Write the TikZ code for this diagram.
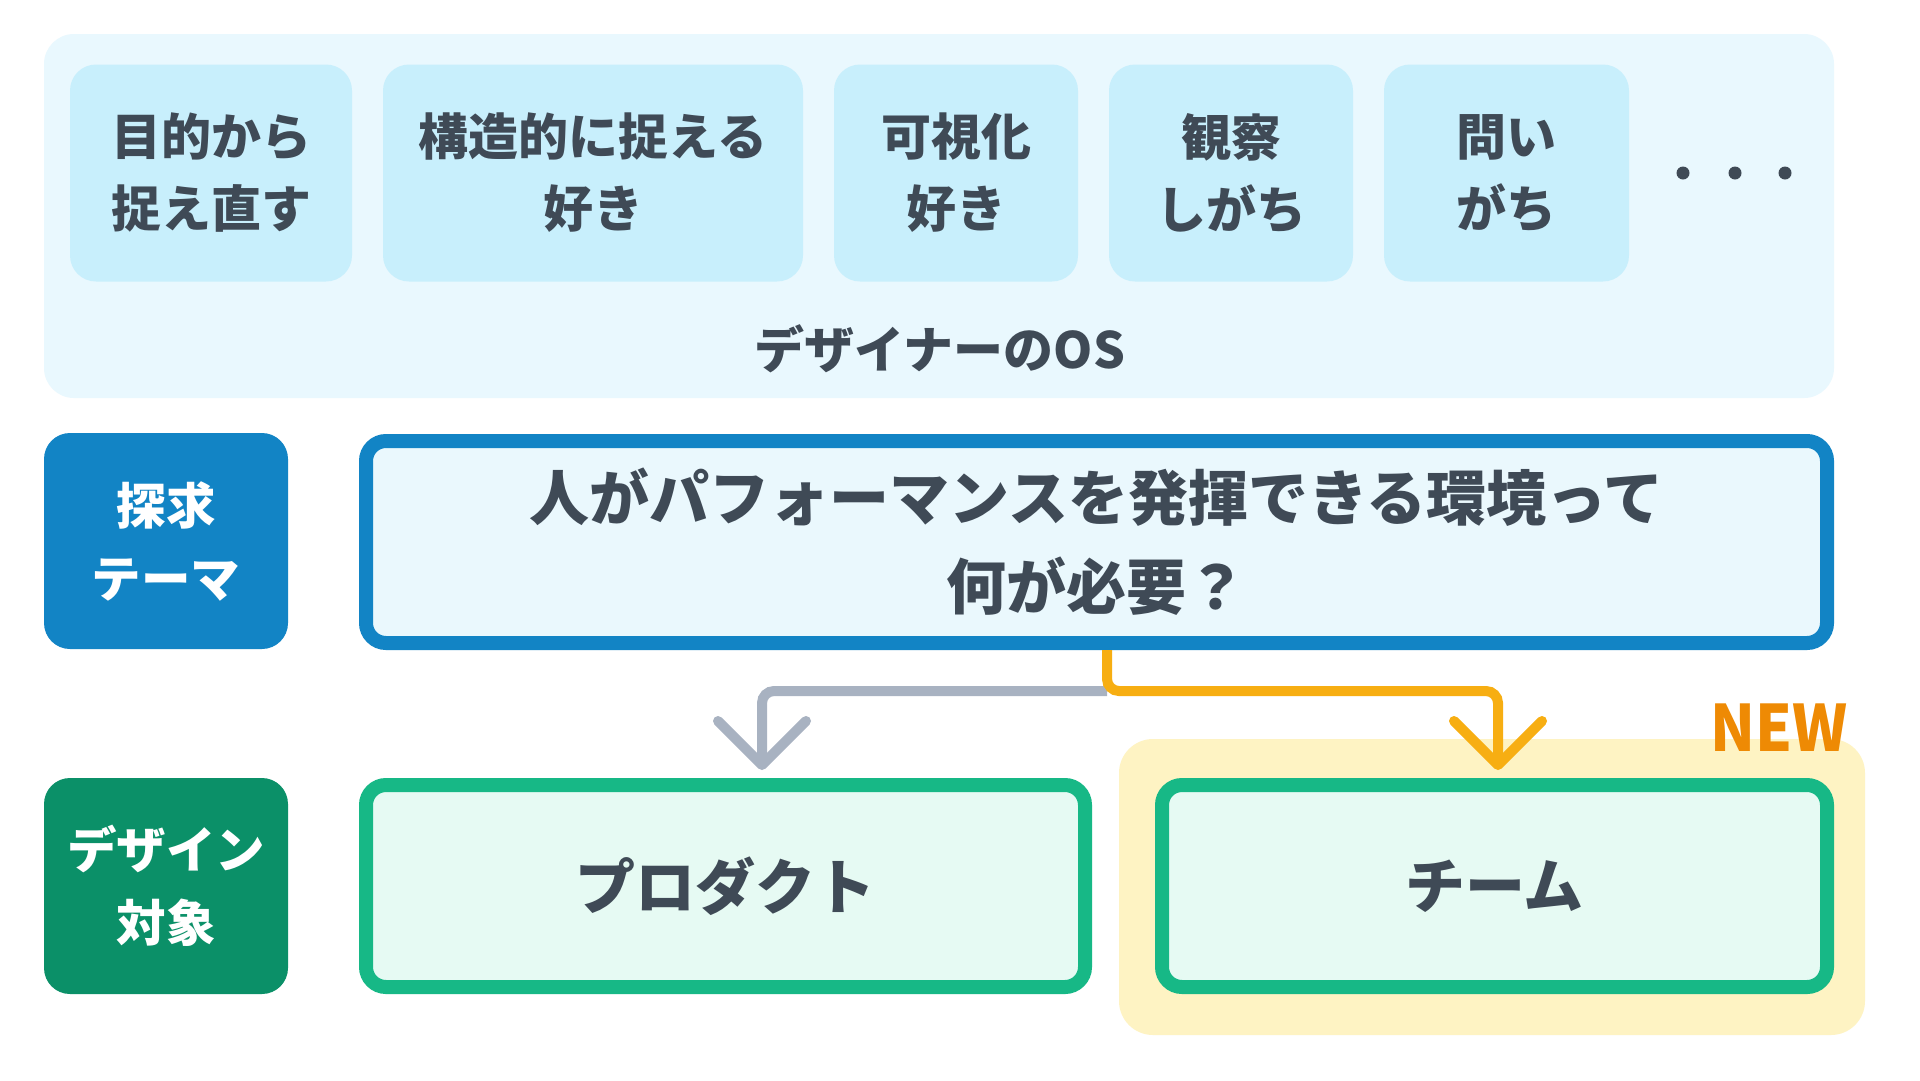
\documentclass[tikz,border=0pt]{standalone}
\usepackage{fontspec}
\setmainfont{Noto Sans CJK JP}
\usetikzlibrary{arrows.meta,calc}
\definecolor{txt}{HTML}{3F4A56}
\definecolor{panelfill}{HTML}{E9F8FE}
\definecolor{osfill}{HTML}{C8EFFC}
\definecolor{blueC}{HTML}{1284C5}
\definecolor{qfill}{HTML}{EAF8FD}
\definecolor{greenD}{HTML}{0B9068}
\definecolor{greenC}{HTML}{17B886}
\definecolor{gfill}{HTML}{E6FAF3}
\definecolor{yel}{HTML}{FEF3C3}
\definecolor{grayC}{HTML}{A8B2C1}
\definecolor{orangeC}{HTML}{F7AE12}
\definecolor{newC}{HTML}{EE8A04}
\begin{document}
\begin{tikzpicture}[x=1pt,y=-1pt,
  osbox/.style={fill=osfill, rounded corners=26pt, minimum height=217pt, inner sep=0pt,
    align=center, text=txt, font=\fontsize{50}{72}\selectfont\bfseries},
  tagbox/.style={fill=#1, rounded corners=26pt, minimum width=244pt, minimum height=216pt,
    inner sep=0pt, align=center, text=white, font=\fontsize{49.5}{73}\selectfont\bfseries},
  framebox/.style={draw=#1, line width=14pt, rounded corners=20pt, inner sep=0pt,
    align=center, text=txt},
  conn/.style={line width=10pt, rounded corners=12pt,
    -{Straight Barb[length=44pt,width=88pt,round]}},
]
\useasboundingbox[fill=white] (0,0) rectangle (1920,1080);

% OS panel
\node[fill=panelfill, rounded corners=30pt, minimum width=1790pt, minimum height=364pt, inner sep=0pt]
  (panel) at (939,216) {};
\node[osbox, minimum width=282pt] (o1) at (211,173) {目的から\\捉え直す};
\node[osbox, minimum width=420pt] (o2) at (593,173) {構造的に捉える\\好き};
\node[osbox, minimum width=244pt] (o3) at (956,173) {可視化\\好き};
\node[osbox, minimum width=244pt] (o4) at (1231,173) {観察\\しがち};
\node[osbox, minimum width=245pt] (o5) at (1506.5,173) {問い\\がち};
\fill[txt] (1683,173) circle (6.5pt) (1735,173) circle (6.5pt) (1785,173) circle (6.5pt);
\node[text=txt, font=\fontsize{50}{50}\selectfont\bfseries] (oslabel) at (940,349) {デザイナーのOS};

% theme row
\node[tagbox=blueC] (theme) at (166,541) {探求\\テーマ};
\node[framebox=blueC, fill=qfill, minimum width=1461pt, minimum height=202pt,
  font=\fontsize{60}{89}\selectfont\bfseries] (q) at (1096.5,542)
  {人がパフォーマンスを発揮できる環境って\\何が必要？};

% target row
\node[fill=yel, rounded corners=34pt, minimum width=746pt, minimum height=296pt, inner sep=0pt]
  (hl) at (1492,887) {};
\node[tagbox=greenD] (target) at (166,886) {デザイン\\対象};
\node[framebox=greenC, fill=gfill, minimum width=719pt, minimum height=202pt,
  font=\fontsize{60}{60}\selectfont\bfseries] (p) at (725.5,886) {プロダクト};
\node[framebox=greenC, fill=gfill, minimum width=665pt, minimum height=202pt,
  font=\fontsize{60}{60}\selectfont\bfseries] (t) at (1494.5,886) {チーム};

% connectors
\coordinate (j) at (1107,691);
\coordinate (pend) at (762,770);
\coordinate (tend) at (1498,770);
\draw[conn, draw=grayC] (j) -| (pend);
\draw[conn, draw=orangeC] (q.south -| j) -- (j) -| (tend);

\node[text=newC, xscale=0.92, font=\fontsize{64}{64}\selectfont\bfseries] (new) at (1779,728) {NEW};
\end{tikzpicture}
\end{document}
